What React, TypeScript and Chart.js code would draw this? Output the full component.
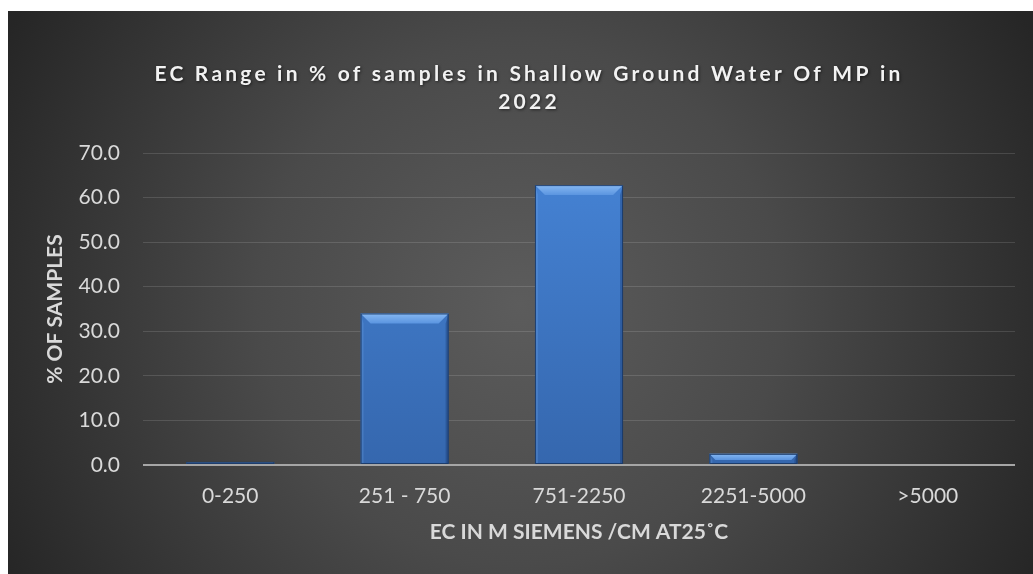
import React, { useEffect, useRef } from "react";
import { Chart, registerables } from "chart.js";

Chart.register(...registerables);

const categories = ["0-250", "251 - 750", "751-2250", "2251-5000", ">5000"];
const percentSamples = [0.7, 34.0, 62.8, 2.5, 0];
const yMin = 0;
const yMax = 70;
const yStep = 10;
const titleLines = ["EC Range in % of samples in Shallow Ground Water Of MP in", "2022"];
const xAxisTitle = "EC IN M SIEMENS /CM AT25˚C";
const yAxisTitle = "% OF SAMPLES";

const FONT = "Lato, 'Open Sans', sans-serif";

const backgroundPlugin = {
  id: "radialBackground",
  beforeDraw(chart: any) {
    const { ctx, width, height } = chart;
    ctx.save();
    const cx = width * 0.5;
    const cy = height * 0.52;
    const g = ctx.createRadialGradient(cx, cy, 0, cx, cy, 580);
    g.addColorStop(0, "#5c5c5c");
    g.addColorStop(0.45, "#4a4a4a");
    g.addColorStop(1, "#262626");
    ctx.fillStyle = g;
    ctx.fillRect(0, 0, width, height);
    ctx.restore();

    const tb = chart.titleBlock;
    if (tb && !tb.__spaced) {
      const orig = tb.draw.bind(tb);
      tb.draw = function (area: any) {
        const c = this.ctx;
        c.save();
        try {
          c.letterSpacing = "3.2px";
        } catch (e) {}
        c.shadowColor = "rgba(0,0,0,0.55)";
        c.shadowBlur = 3;
        c.shadowOffsetX = 1;
        c.shadowOffsetY = 1;
        orig(area);
        c.restore();
      };
      tb.__spaced = true;
    }
  },
};

const bevelPlugin = {
  id: "barBevel",
  afterDatasetsDraw(chart: any) {
    const ctx = chart.ctx;
    const meta = chart.getDatasetMeta(0);
    meta.data.forEach((bar: any) => {
      const { x, y, base, width } = bar.getProps(["x", "y", "base", "width"], true);
      const h = base - y;
      if (h < 1) return;
      const l = x - width / 2;
      const r = x + width / 2;
      const b = Math.min(10, h * 0.6);
      const s = Math.min(3, h / 3);
      ctx.save();
      ctx.fillStyle = "rgba(20,50,100,0.35)";
      ctx.beginPath();
      ctx.moveTo(r, y);
      ctx.lineTo(r, base);
      ctx.lineTo(r - s, base);
      ctx.lineTo(r - s, y + b);
      ctx.closePath();
      ctx.fill();
      ctx.fillStyle = "rgba(120,170,235,0.25)";
      ctx.beginPath();
      ctx.moveTo(l, y);
      ctx.lineTo(l, base);
      ctx.lineTo(l + s, base);
      ctx.lineTo(l + s, y + b);
      ctx.closePath();
      ctx.fill();
      const tg = ctx.createLinearGradient(0, y, 0, y + b);
      tg.addColorStop(0, "#86b8f2");
      tg.addColorStop(1, "#5b95e0");
      ctx.fillStyle = tg;
      ctx.beginPath();
      ctx.moveTo(l, y);
      ctx.lineTo(r, y);
      ctx.lineTo(r - b, y + b);
      ctx.lineTo(l + b, y + b);
      ctx.closePath();
      ctx.fill();
      ctx.strokeStyle = "rgba(25,55,100,0.9)";
      ctx.lineWidth = 1;
      ctx.strokeRect(l + 0.5, y + 0.5, width - 1, h - 1);
      ctx.restore();
    });
  },
};

export default function App() {
  const canvasRef = useRef<HTMLCanvasElement | null>(null);

  useEffect(() => {
    if (!canvasRef.current) return;
    const chart = new Chart(canvasRef.current, {
      type: "bar",
      data: {
        labels: categories,
        datasets: [
          {
            data: percentSamples,
            backgroundColor: (c: any) => {
              const ca = c.chart.chartArea;
              if (!ca) return "#3d78c8";
              const g = c.chart.ctx.createLinearGradient(0, ca.top, 0, ca.bottom);
              g.addColorStop(0, "#4684d6");
              g.addColorStop(1, "#3567ae");
              return g;
            },
            borderWidth: 0,
            barPercentage: 0.505,
            categoryPercentage: 1,
          },
        ],
      },
      options: {
        animation: false,
        responsive: false,
        devicePixelRatio: 1,
        layout: { padding: { top: 38, left: 35, right: 18, bottom: 29 } },
        plugins: {
          legend: { display: false },
          tooltip: { enabled: false },
          title: {
            display: true,
            text: titleLines,
            color: "#f2f2f2",
            font: { family: FONT, size: 21, weight: "bold", lineHeight: "28px" },
            padding: { top: 11, bottom: 37 },
          },
        },
        scales: {
          x: {
            grid: { display: false, drawTicks: false },
            border: { display: false },
            afterFit: (s: any) => {
              s.height = 80;
            },
            ticks: {
              color: "#d9d9d9",
              font: { family: FONT, size: 21 },
              padding: 19,
              maxRotation: 0,
            },
            title: {
              display: true,
              text: xAxisTitle,
              color: "#d9d9d9",
              font: { family: FONT, size: 21, weight: "bold" },
              padding: { top: 0, bottom: 0 },
            },
          },
          y: {
            min: yMin,
            max: yMax,
            border: { display: false },
            afterFit: (s: any) => {
              s.width = 100;
            },
            grid: {
              drawTicks: false,
              color: (c: any) => (c.tick && c.tick.value === 0 ? "#a6a6a6" : "rgba(255,255,255,0.13)"),
              lineWidth: (c: any) => (c.tick && c.tick.value === 0 ? 2 : 1),
            },
            ticks: {
              stepSize: yStep,
              color: "#d9d9d9",
              font: { family: FONT, size: 21 },
              padding: 23,
              callback: (v: any) => Number(v).toFixed(1),
            },
            title: {
              display: true,
              text: yAxisTitle,
              color: "#d9d9d9",
              font: { family: FONT, size: 21, weight: "bold" },
              padding: { top: 0, bottom: 0 },
            },
          },
        },
      },
      plugins: [backgroundPlugin, bevelPlugin],
    } as any);
    return () => chart.destroy();
  }, []);

  return (
    <div style={{ position: "fixed", left: 8, top: 11, width: 1025, height: 563 }}>
      <canvas ref={canvasRef} width={1025} height={563} />
    </div>
  );
}
